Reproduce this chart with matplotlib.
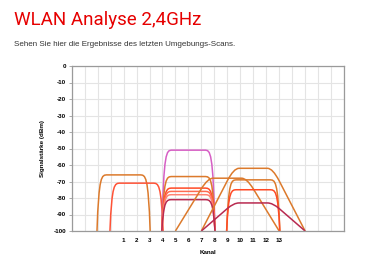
import matplotlib
matplotlib.use("Agg")
import matplotlib.pyplot as plt
from matplotlib.path import Path
from matplotlib.patches import PathPatch

# networks seen in the scan
channels = [1, 2, 6, 6, 6, 6, 6, 6, 9, 11, 11, 11, 11]
levels = [-66, -71, -51, -67, -74, -76, -78, -81, -68, -62, -69, -75, -83]
bandwidth = [20, 20, 20, 20, 20, 20, 20, 20, 40, 40, 20, 20, 40]
colors = ["#dc7a2c", "#ff5236", "#d65fc4", "#dc7a2c", "#ff4a26", "#ff6a50",
          "#ff8272", "#b82a50", "#dc7a2c", "#dc7a2c", "#dc7a2c", "#ff4a26", "#b82a50"]

tick_channels = list(range(1, 14))
y_ticks = list(range(0, -101, -10))


def signal_path(ch, lvl, bw):
    if bw == 20:
        verts = [(ch - 2.05, -100), (ch - 1.9, lvl), (ch - 1.7, lvl), (ch - 1.25, lvl),
                 (ch + 1.25, lvl), (ch + 1.7, lvl), (ch + 1.9, lvl), (ch + 2.05, -100)]
        codes = [Path.MOVETO, Path.CURVE4, Path.CURVE4, Path.CURVE4,
                 Path.LINETO, Path.CURVE4, Path.CURVE4, Path.CURVE4]
    else:
        h, p, f = 4.0, 1.5, 0.8
        ys = -100 + f * (lvl + 100)
        verts = [(ch - h, -100), (ch - h + f * (h - p), ys), (ch - p, lvl), (ch - p + 0.4, lvl),
                 (ch + p - 0.4, lvl), (ch + p, lvl), (ch + h - f * (h - p), ys), (ch + h, -100)]
        codes = [Path.MOVETO, Path.LINETO, Path.CURVE3, Path.CURVE3,
                 Path.LINETO, Path.CURVE3, Path.CURVE3, Path.LINETO]
    return Path(verts, codes)


fig = plt.figure(figsize=(3.71, 2.64), dpi=100)
fig.text(14 / 371, 1 - 25 / 264, "WLAN Analyse 2,4GHz", color="#e60000",
         fontsize=13.5, family=["Roboto", "DejaVu Sans"], va="baseline")
fig.text(14 / 371, 1 - 45.5 / 264, "Sehen Sie hier die Ergebnisse des letzten Umgebungs-Scans.",
         color="#333333", fontsize=5.8, family="Liberation Sans", va="baseline")

ax = fig.add_axes([71.7 / 371, 1 - 231 / 264, (344 - 71.7) / 371, (231 - 66) / 264])
for ch, lvl, bw, col in zip(channels, levels, bandwidth, colors):
    ax.add_patch(PathPatch(signal_path(ch, lvl, bw), fill=False, edgecolor=col, lw=1.1))

ax.set_xlim(-3, 18)
ax.set_ylim(-100, 0)
ax.set_xticks(range(-3, 19))
ax.set_xticklabels([str(c) if c in tick_channels else "" for c in range(-3, 19)])
ax.set_yticks(y_ticks)
ax.set_yticklabels([str(v) for v in y_ticks])
ax.grid(True, color="#e4e4e4", lw=0.8)
ax.set_axisbelow(True)
for s in ax.spines.values():
    s.set_color("#9a9a9a")
    s.set_linewidth(0.9)
ax.tick_params(axis="x", length=0, pad=5, labelsize=4.5)
ax.tick_params(axis="y", length=2.5, width=0.7, color="#aaaaaa", pad=1.5, labelsize=4.5)
for lab in ax.get_xticklabels() + ax.get_yticklabels():
    lab.set_fontweight("bold")
    lab.set_family("Liberation Sans")
ax.set_xlabel("Kanal", fontsize=4.5, fontweight="bold", family="Liberation Sans", labelpad=5)
ax.set_ylabel("Signalstärke (dBm)", fontsize=4.5, fontweight="bold", family="Liberation Sans", labelpad=6)

fig.savefig("out.png", dpi=100)
